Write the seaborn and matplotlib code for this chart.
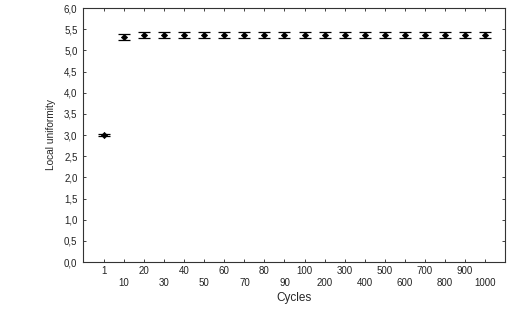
import numpy as np
import pandas as pd
import matplotlib
matplotlib.use("Agg")
import matplotlib.pyplot as plt
import seaborn as sns
from matplotlib.ticker import FuncFormatter

cycles = ["1", "10", "20", "30", "40", "50", "60", "70", "80", "90",
          "100", "200", "300", "400", "500", "600", "700", "800", "900", "1000"]
uniformity = [3.00, 5.31, 5.36, 5.36, 5.36, 5.36, 5.36, 5.36, 5.36, 5.36,
              5.36, 5.36, 5.36, 5.36, 5.36, 5.36, 5.36, 5.36, 5.36, 5.36]
err = [0.02, 0.07, 0.075, 0.075, 0.075, 0.075, 0.075, 0.075, 0.075, 0.075,
       0.075, 0.075, 0.075, 0.075, 0.075, 0.075, 0.075, 0.075, 0.075, 0.075]

df = pd.DataFrame({"pos": np.arange(len(cycles)), "cycles": cycles,
                   "u": uniformity, "e": err})

sns.set_style("ticks")
plt.rcParams['font.family'] = ['Liberation Sans', 'DejaVu Sans']

fig = plt.figure(figsize=(5.17, 3.09), dpi=100)
ax = fig.add_axes([83/517, 1-262/309, (505-83)/517, (262-8)/309])

ax.errorbar(df["pos"], df["u"], yerr=df["e"], fmt="none", ecolor="black",
            elinewidth=0.8, capsize=4.6, capthick=0.9)
sns.scatterplot(data=df, x="pos", y="u", ax=ax, marker="D", s=10,
                color="black", edgecolor="black", linewidth=0.5, zorder=3)

ax.set_xlim(-1.05, 20.0)
ax.set_ylim(0, 6)
ax.set_yticks(np.arange(0, 6.01, 0.5))
ax.yaxis.set_major_formatter(FuncFormatter(lambda v, p: f"{v:.1f}".replace(".", ",")))
ax.set_xticks(df["pos"])
labels = [c if i % 2 == 0 else "\n" + c for i, c in enumerate(cycles)]
ax.set_xticklabels(labels)
ax.tick_params(axis="both", direction="in", length=2.5, width=0.6,
               labelsize=7, colors="#222222", top=True, right=True, pad=4)
ax.tick_params(axis="x", pad=3, length=2)
for s in ax.spines.values():
    s.set_linewidth(0.8)
    s.set_color("#333333")
ax.set_xlabel("Cycles", fontsize=8.5, labelpad=3)
ax.set_ylabel("Local uniformity", fontsize=7.3, labelpad=6)
fig.savefig("out.png", dpi=100)
